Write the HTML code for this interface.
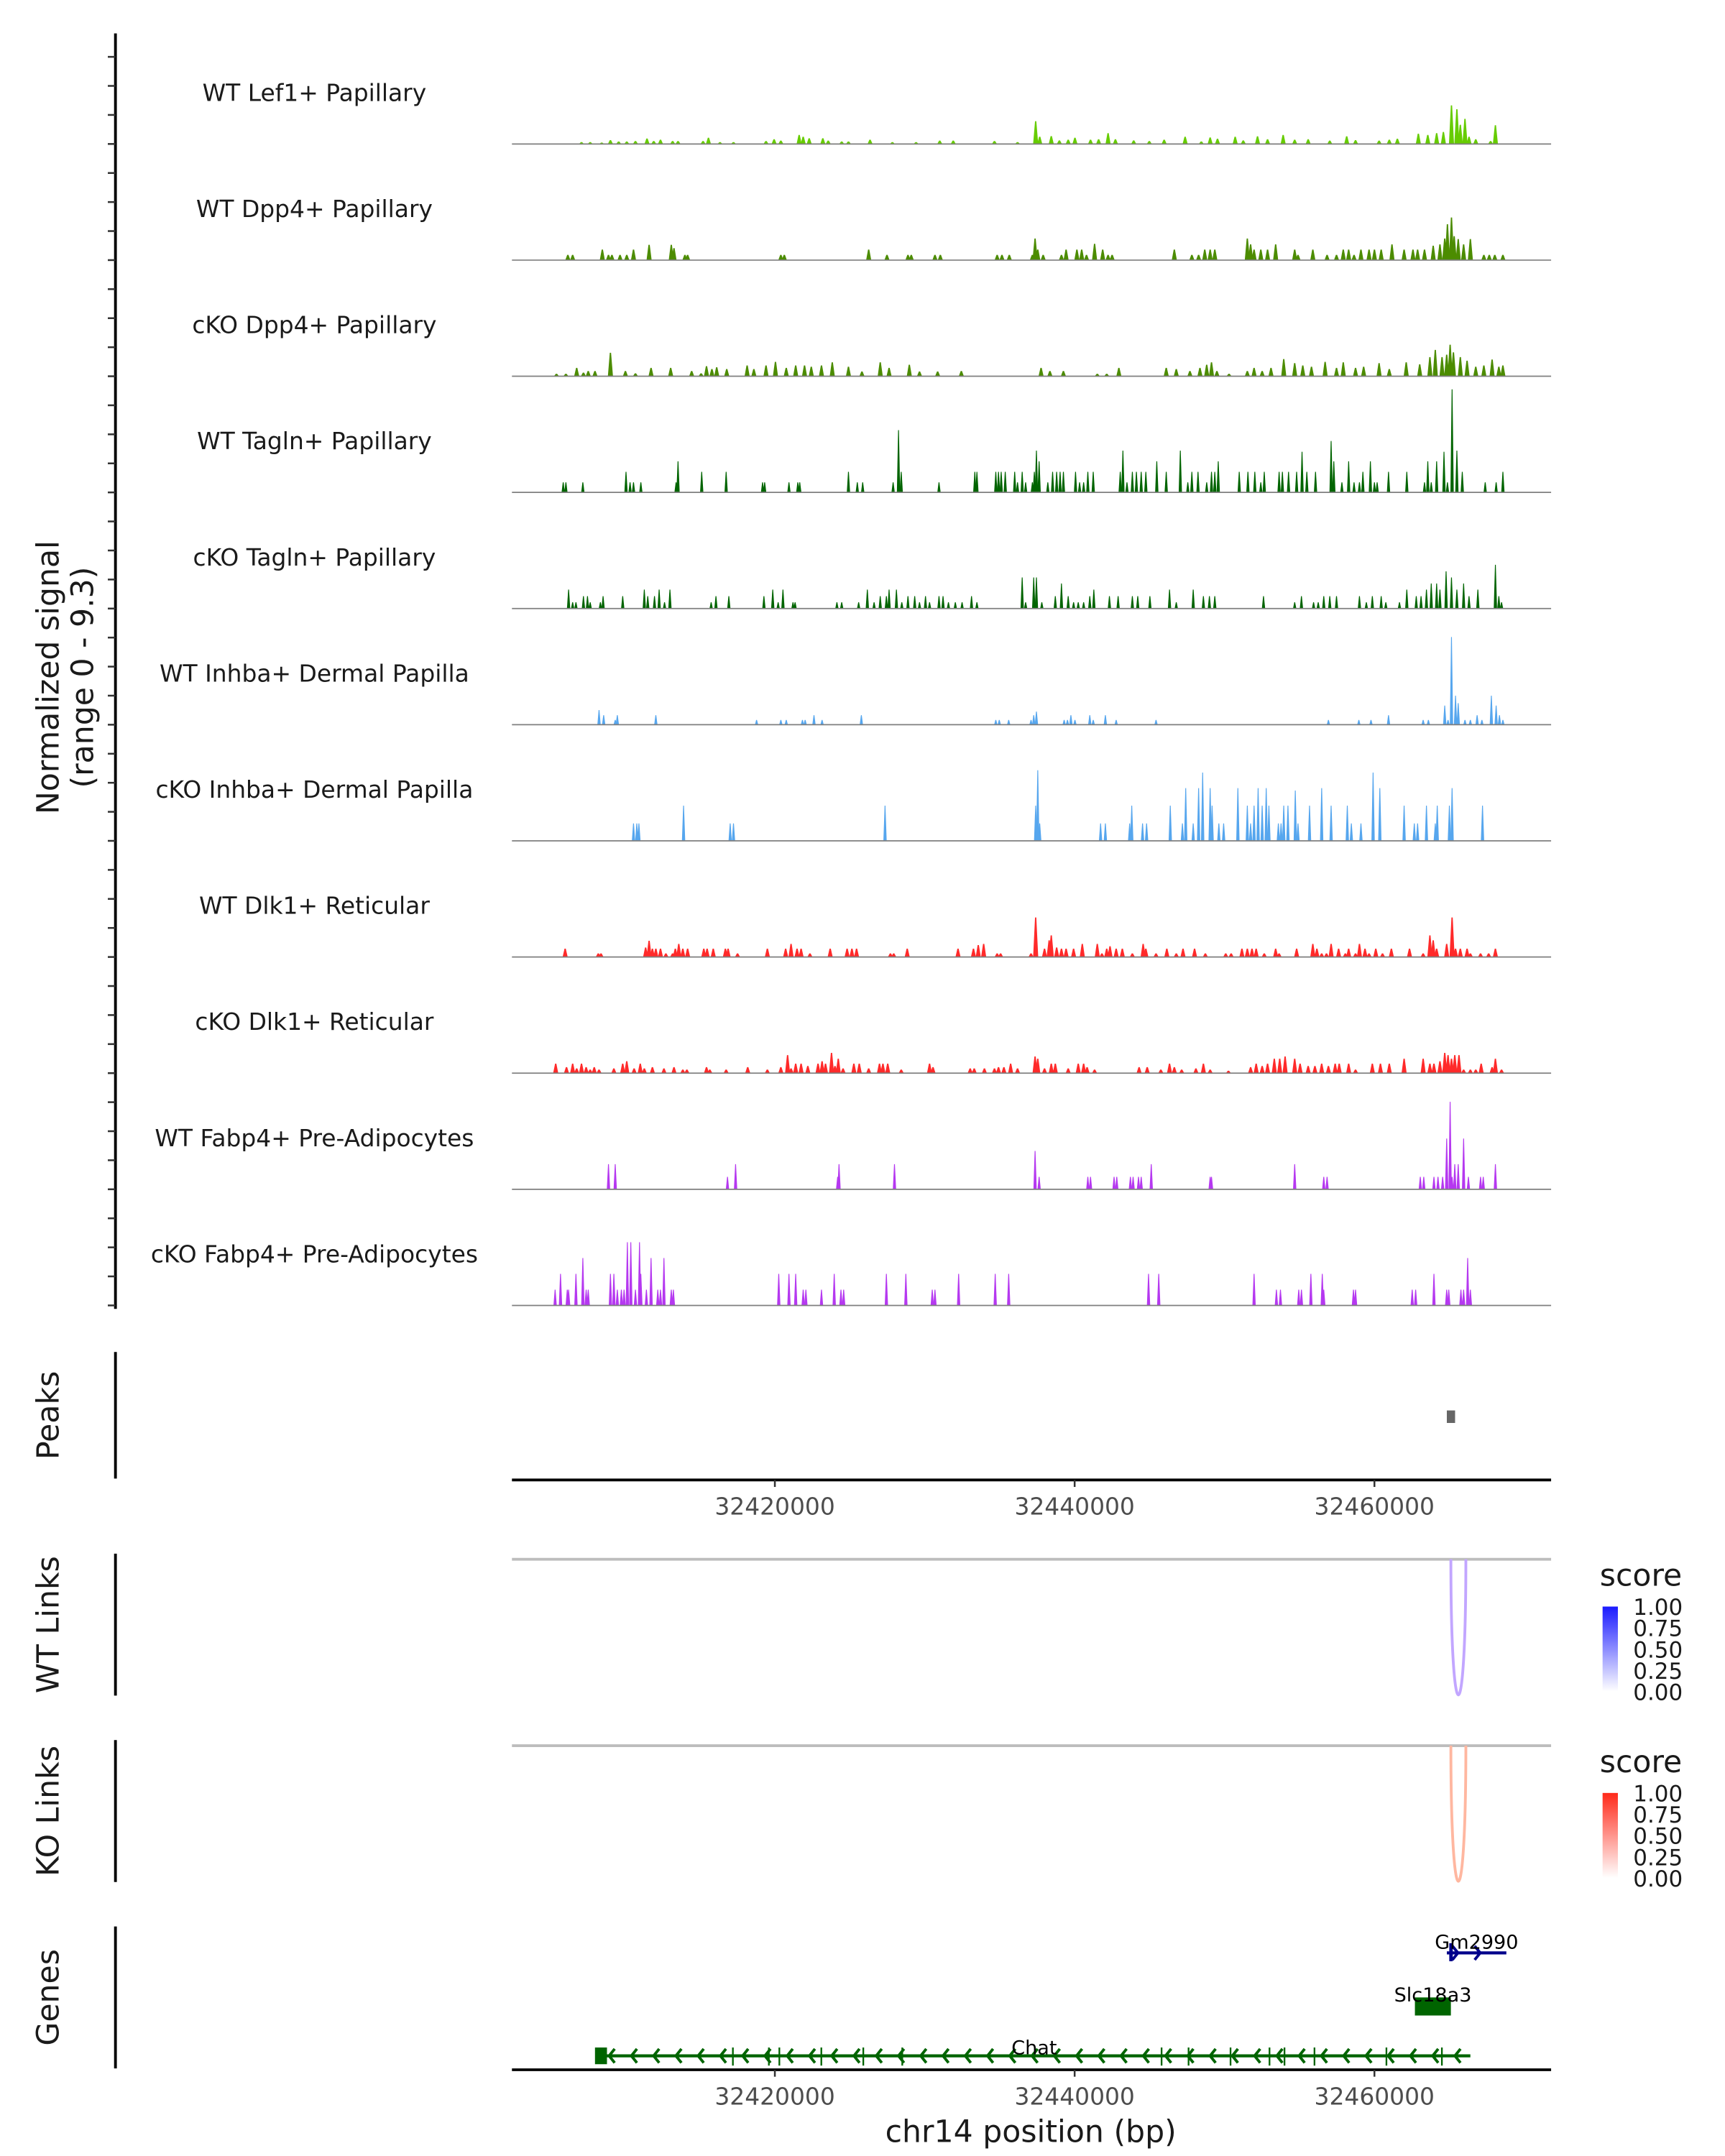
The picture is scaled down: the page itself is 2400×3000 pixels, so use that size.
<!DOCTYPE html>
<html><head><meta charset="utf-8">
<style>
html,body{margin:0;padding:0;background:#fff;}
svg{display:block;font-family:"DejaVu Sans","Liberation Sans",sans-serif;}
</style></head>
<body>
<svg id="chart" xmlns="http://www.w3.org/2000/svg" width="2400" height="3000" viewBox="0 0 1240 1550">
<rect x="0" y="0" width="1240" height="1550" fill="#fff"/>
<g id="tracks"></g>
<g id="lower"></g>
</svg>
<script>
// Positions in kb relative to chr14:32,400,000 ; signal values (range 0-9.3)
const trackNames = ["WT Lef1+ Papillary","WT Dpp4+ Papillary","cKO Dpp4+ Papillary","WT Tagln+ Papillary","cKO Tagln+ Papillary","WT Inhba+ Dermal Papilla","cKO Inhba+ Dermal Papilla","WT Dlk1+ Reticular","cKO Dlk1+ Reticular","WT Fabp4+ Pre-Adipocytes","cKO Fabp4+ Pre-Adipocytes"];
const trackColors = ["#66cc00","#4c8c00","#4c8c00","#006400","#006400","#56a6ee","#56a6ee","#ff2a2a","#ff2a2a","#b538f0","#b538f0"];
const wtLef1 = [[7.10,.16],[7.68,.16],[8.45,.12],[9.03,.33],[9.58,.21],[10.12,.21],[10.70,.25],[11.47,.47],[11.92,.25],[12.37,.37],[13.18,.25],[13.54,.25],[15.21,.25],[15.57,.54],[16.34,.16],[17.24,.16],[19.41,.25],[19.95,.41],[20.40,.29],[21.62,.78],[21.89,.62],[22.29,.49],[23.20,.49],[23.56,.29],[24.46,.21],[24.91,.21],[26.35,.37],[27.84,.16],[29.42,.16],[31.00,.29],[31.90,.29],[34.65,.25],[36.19,.16],[37.40,1.96],[37.67,.62],[38.44,.68],[38.98,.31],[39.57,.37],[40.02,.54],[41.06,.37],[41.60,.41],[42.23,.93],[42.72,.41],[43.94,.31],[44.98,.25],[45.97,.37],[47.37,.62],[48.45,.21],[49.04,.56],[49.53,.45],[50.71,.62],[51.25,.31],[52.20,.66],[52.87,.41],[53.91,.78],[54.68,.37],[55.58,.41],[57.02,.29],[58.15,.66],[58.74,.33],[60.31,.29],[60.99,.37],[61.53,.45],[62.93,.89],[63.56,.78],[64.15,.93],[64.60,1.03],[65.14,3.32],[65.50,2.99],[65.73,1.65],[66.04,2.16],[66.31,.62],[66.76,.41],[67.75,.25],[68.07,1.61]];
const wtDpp4 = [[6.19,.45],[6.51,.45],[8.49,.91],[8.90,.45],[9.13,.45],[9.67,.45],[10.12,.45],[10.57,.91],[11.61,1.32],[13.09,1.32],[13.27,1.03],[14.0,.45],[14.18,.45],[20.40,.45],[20.63,.45],[26.26,.91],[27.48,.45],[28.88,.45],[29.10,.45],[30.68,.45],[31.04,.45],[34.83,.45],[35.15,.45],[35.64,.45],[37.18,.45],[37.36,1.86],[37.54,.91],[37.90,.45],[39.12,.45],[39.43,.91],[40.15,.91],[40.47,.91],[40.79,.45],[41.33,1.4],[41.87,.91],[42.23,.45],[42.5,.45],[46.65,.91],[47.82,.45],[48.27,.45],[48.68,.91],[49.04,.91],[49.35,.91],[51.52,1.86],[51.74,1.36],[51.97,.91],[52.42,.91],[52.87,.91],[53.41,1.36],[54.68,.91],[54.90,.45],[55.89,.91],[56.84,.45],[57.47,.45],[57.92,.91],[58.28,.91],[58.64,.45],[59.10,.91],[59.64,.91],[60.0,.91],[60.45,.91],[61.17,1.36],[61.98,.91],[62.57,.91],[62.88,.91],[63.34,.91],[63.92,1.24],[64.37,1.36],[64.69,1.86],[64.87,3.09],[65.14,3.67],[65.32,2.06],[65.59,1.81],[65.95,1.36],[66.40,1.81],[67.30,.45],[67.66,.45],[68.03,.45],[68.57,.45]];
const koDpp4 = [[5.43,.21],[6.06,.21],[6.78,.72],[7.23,.31],[7.55,.45],[8.0,.45],[9.03,2.02],[10.03,.45],[10.70,.25],[11.74,.72],[13.05,.72],[14.45,.45],[15.08,.25],[15.44,.87],[15.80,.62],[16.12,.78],[16.79,.62],[18.15,.93],[18.60,.62],[19.41,.93],[20.04,1.24],[20.76,.72],[21.39,.93],[21.98,.93],[22.43,.82],[23.11,.93],[23.83,1.2],[24.91,.82],[25.81,.41],[27.03,1.2],[27.62,.72],[28.97,.99],[29.65,.41],[30.86,.41],[32.44,.45],[37.76,.72],[38.35,.45],[39.25,.45],[41.51,.21],[42.14,.21],[42.95,.72],[46.11,.72],[46.78,.62],[47.69,.45],[48.36,.72],[48.81,.99],[49.13,1.2],[49.49,.45],[50.30,.21],[51.52,.45],[51.97,.72],[52.51,.45],[53.10,.72],[53.95,1.48],[54.68,1.13],[55.22,.93],[55.80,.82],[56.71,1.24],[57.47,.72],[57.92,1.2],[58.74,.72],[59.28,.82],[60.31,1.13],[60.99,.62],[62.12,1.2],[63.02,1.03],[63.70,1.65],[64.06,2.27],[64.51,1.65],[64.82,1.86],[65.05,2.72],[65.27,2.06],[65.73,1.65],[66.18,1.34],[66.76,.82],[67.30,.93],[67.85,1.44],[68.30,.82],[68.57,.93]];
const wtTagln = [[5.88,.87],[6.06,.87],[7.19,.87],[10.07,1.77],[10.34,.87],[10.57,.87],[11.06,.87],[13.41,.87],[13.54,2.68],[15.12,1.77],[16.75,1.77],[19.18,.87],[19.32,.87],[20.94,.87],[21.53,.87],[21.66,.87],[24.91,1.77],[25.50,.87],[25.86,.87],[27.89,.87],[28.25,5.36],[28.43,1.77],[30.95,.87],[33.34,1.77],[33.48,1.77],[34.74,1.77],[34.92,1.77],[35.10,1.77],[35.37,1.77],[36.0,1.77],[36.19,.87],[36.50,1.77],[36.73,.87],[37.18,.87],[37.31,1.77],[37.45,3.6],[37.63,2.68],[38.21,.87],[38.53,1.77],[38.80,1.77],[39.03,1.77],[39.25,1.77],[40.06,1.77],[40.33,.87],[40.60,.87],[40.88,1.77],[41.24,1.77],[43.04,1.77],[43.22,3.6],[43.49,.87],[43.85,1.77],[44.12,1.77],[44.44,1.77],[44.75,1.77],[45.48,2.68],[46.11,1.77],[47.05,3.6],[47.55,.87],[47.82,1.77],[48.23,1.77],[48.81,.87],[49.13,1.77],[49.35,1.77],[49.58,2.68],[50.98,1.77],[51.56,1.77],[52.02,1.77],[52.42,.87],[52.65,1.77],[53.64,1.77],[53.86,1.77],[54.27,1.77],[54.81,1.77],[55.17,3.5],[55.49,1.77],[56.07,1.77],[57.11,4.43],[57.29,2.68],[57.83,.87],[58.28,2.68],[58.64,.87],[59.0,.87],[59.23,1.77],[59.73,2.68],[60.0,.87],[60.18,.87],[60.94,1.77],[62.16,1.77],[63.34,.87],[63.56,2.68],[63.79,.87],[64.15,2.68],[64.64,3.5],[64.87,.87],[65.18,8.87],[65.50,3.6],[65.86,1.77],[67.39,.87],[68.12,.87],[68.57,1.77]];
const koTagln = [[6.24,1.63],[6.51,.54],[6.73,.54],[7.23,1.07],[7.50,1.07],[7.68,.54],[8.36,.54],[8.54,1.07],[9.85,1.07],[11.29,1.63],[11.52,1.07],[11.97,1.07],[12.28,1.63],[12.64,.54],[13.0,1.63],[15.75,.54],[16.07,1.07],[16.93,1.07],[19.27,1.07],[19.86,1.63],[20.22,.54],[20.54,1.63],[21.21,.54],[21.35,.54],[24.14,.54],[24.46,.54],[25.59,.54],[26.17,1.63],[26.62,.54],[27.03,1.07],[27.44,1.07],[27.62,1.63],[28.11,1.63],[28.47,.54],[28.88,1.07],[29.33,1.07],[29.65,.54],[30.05,1.07],[30.32,.54],[30.95,1.07],[31.22,1.07],[31.58,.54],[32.04,.54],[32.49,.54],[33.12,1.07],[33.48,.54],[36.50,2.68],[36.73,.54],[37.27,2.68],[37.45,2.68],[37.81,.54],[38.71,1.07],[39.12,2.16],[39.57,1.07],[39.93,.54],[40.24,.54],[40.60,.54],[41.01,1.07],[41.28,1.63],[42.32,1.07],[42.90,1.07],[43.85,1.07],[44.21,1.07],[45.02,1.07],[46.33,1.63],[46.78,.54],[47.91,1.63],[48.59,1.07],[48.99,1.07],[49.35,1.07],[52.60,1.07],[54.68,.54],[55.13,1.07],[55.94,.54],[56.25,.54],[56.62,1.07],[57.02,1.07],[57.47,1.07],[59.0,1.07],[59.46,.54],[59.86,1.07],[60.45,1.07],[60.76,.54],[61.67,.54],[62.16,1.63],[62.79,1.07],[63.11,1.07],[63.47,1.63],[63.79,2.16],[64.15,2.16],[64.37,1.63],[64.78,3.2],[65.14,2.68],[65.50,1.63],[65.95,2.16],[66.31,1.07],[66.90,1.63],[68.07,3.77],[68.30,1.07],[68.48,.54]];
const wtInhba = [[8.27,1.26],[8.58,.82],[9.35,.41],[9.49,.82],[12.06,.82],[18.78,.41],[20.40,.41],[20.76,.41],[21.84,.41],[22.02,.41],[22.61,.82],[23.15,.41],[25.77,.82],[34.74,.41],[34.97,.41],[35.60,.41],[37.09,.41],[37.27,.82],[37.45,1.13],[39.30,.41],[39.52,.41],[39.75,.82],[40.02,.41],[41.01,.82],[41.24,.41],[42.05,.82],[42.77,.41],[45.43,.41],[56.93,.41],[58.96,.41],[59.77,.41],[60.94,.82],[63.25,.41],[63.60,.41],[64.69,1.65],[64.91,.41],[65.14,7.55],[65.41,2.5],[65.59,1.86],[66.04,.41],[66.40,.41],[66.85,.82],[67.17,.41],[67.80,2.5],[68.12,1.65],[68.34,.82],[68.57,.41]];
const koInhba = [[10.57,1.5],[10.79,1.5],[10.93,1.5],[13.91,3.03],[17.02,1.5],[17.24,1.5],[27.35,3.03],[37.40,3.03],[37.54,6.08],[37.67,1.5],[41.73,1.5],[42.05,1.5],[43.67,1.5],[43.81,3.03],[44.53,1.5],[44.80,1.5],[46.38,3.03],[47.19,1.5],[47.41,4.54],[47.91,1.5],[48.27,4.54],[48.54,5.88],[49.04,4.54],[49.17,3.03],[49.62,1.5],[49.94,1.5],[50.89,4.54],[51.52,3.03],[51.74,1.5],[51.97,3.03],[52.24,4.54],[52.51,3.03],[52.78,4.54],[52.96,3.03],[53.59,1.5],[53.77,1.5],[53.95,3.03],[54.23,3.03],[54.72,4.33],[54.90,1.5],[55.67,3.03],[56.48,4.54],[57.11,3.03],[58.19,3.03],[58.46,1.5],[59.10,1.5],[59.91,5.88],[60.36,4.54],[61.98,3.03],[62.66,1.5],[62.88,1.5],[63.47,3.03],[64.06,1.5],[64.19,3.03],[65.0,3.03],[65.18,4.54],[67.21,3.03]];
const wtDlk1 = [[6.01,.72],[8.22,.31],[8.40,.31],[11.38,.82],[11.61,1.4],[11.83,.72],[12.06,.72],[12.37,.72],[12.73,.31],[13.18,.31],[13.36,.72],[13.59,1.13],[13.86,.72],[14.18,.72],[15.26,.72],[15.48,.72],[15.89,.72],[16.70,.72],[16.88,.72],[17.51,.31],[19.50,.72],[20.72,.72],[21.08,1.13],[21.48,.72],[21.75,.72],[22.34,.31],[23.69,.72],[24.82,.72],[25.14,.72],[25.45,.72],[27.71,.31],[27.93,.31],[28.83,.72],[32.22,.72],[33.25,.72],[33.57,1.03],[33.93,1.13],[34.83,.31],[35.06,.31],[37.09,.31],[37.40,3.4],[37.99,.72],[38.30,1.44],[38.44,1.86],[38.80,.82],[39.12,.72],[39.43,.72],[39.93,.72],[40.51,1.13],[41.51,1.13],[41.82,.31],[42.14,.72],[42.36,.93],[42.77,.72],[43.18,.72],[43.85,.31],[44.57,1.13],[44.75,.72],[45.43,.31],[46.15,.72],[46.78,.31],[47.23,.72],[48.0,.72],[48.72,.31],[50.08,.31],[50.44,.31],[51.16,.72],[51.52,.72],[51.83,.72],[52.11,.72],[52.65,.31],[53.41,.72],[53.64,.31],[54.81,.72],[55.89,1.13],[56.16,.72],[56.48,.31],[56.80,.31],[57.11,1.13],[57.61,.72],[58.06,.31],[58.28,.72],[58.74,.31],[59.0,1.13],[59.37,.72],[59.64,.31],[60.09,.72],[60.54,.31],[61.13,.72],[62.34,.72],[63.25,.31],[63.70,1.86],[63.92,1.44],[64.15,.72],[64.82,1.13],[65.18,3.4],[65.41,.72],[65.73,.72],[66.18,.72],[66.40,.31],[67.08,.31],[67.62,.31],[68.07,.72]];
const koDlk1 = [[5.38,.82],[6.10,.52],[6.51,.82],[6.78,.41],[7.10,.82],[7.41,.52],[7.68,.31],[7.95,.52],[8.27,.31],[9.26,.41],[9.85,.82],[10.12,1.03],[10.61,.41],[11.02,.82],[11.29,.41],[11.83,.52],[12.60,.41],[13.27,.52],[13.86,.31],[14.13,.31],[15.44,.52],[15.66,.31],[16.75,.31],[18.19,.52],[19.50,.31],[20.40,.52],[20.85,1.55],[21.08,.41],[21.39,.82],[21.75,.82],[22.20,.62],[22.88,.82],[23.15,1.03],[23.38,.82],[23.78,1.75],[24.01,.62],[24.23,1.24],[24.55,.41],[25.27,.82],[25.63,.82],[26.26,.41],[26.98,.82],[27.21,.82],[27.53,.82],[28.43,.31],[30.32,.82],[30.55,.52],[33.03,.41],[33.30,.41],[33.98,.41],[34.65,.41],[34.92,.52],[35.28,.52],[35.73,.82],[36.19,.41],[37.36,1.44],[37.54,1.24],[37.99,.41],[38.44,.82],[38.71,.82],[39.57,.41],[40.24,.82],[40.60,.82],[40.83,.52],[41.33,.31],[44.30,.52],[44.84,.52],[45.75,.31],[46.33,.82],[46.65,.52],[47.14,.31],[48.09,.41],[48.59,.82],[49.04,.31],[50.26,.21],[51.74,.52],[52.11,.82],[52.51,.62],[52.87,.82],[53.32,1.24],[53.68,1.24],[54.04,1.44],[54.68,1.24],[55.04,.82],[55.58,.62],[56.03,.62],[56.48,.82],[56.93,.62],[57.38,.82],[57.65,.82],[58.28,.82],[58.74,.31],[59.86,.82],[60.40,.82],[60.99,.82],[61.98,1.24],[63.25,1.24],[63.70,.82],[63.97,.82],[64.37,1.03],[64.69,1.75],[64.91,1.55],[65.14,1.24],[65.36,1.55],[65.64,1.55],[65.95,.31],[66.40,.31],[66.76,.31],[67.12,.82],[67.85,.52],[68.07,1.24],[68.48,.31]];
const wtFabp4 = [[8.90,2.16],[9.35,2.16],[16.84,1.07],[17.38,2.16],[24.19,1.07],[24.28,2.16],[27.98,2.16],[37.36,3.3],[37.63,1.07],[40.88,1.07],[41.06,1.07],[42.63,1.07],[42.81,1.07],[43.72,1.07],[43.90,1.07],[44.26,1.07],[44.44,1.07],[45.11,2.16],[49.04,1.07],[49.13,1.07],[54.68,2.16],[56.62,1.07],[56.84,1.07],[63.06,1.07],[63.29,1.07],[63.97,1.07],[64.24,1.07],[64.55,1.07],[64.82,4.37],[65.05,7.53],[65.18,1.07],[65.36,2.16],[65.59,2.16],[65.95,4.37],[66.27,1.07],[67.08,1.07],[67.26,1.07],[68.07,2.16]];
const koFabp4 = [[5.34,1.36],[5.70,2.72],[6.15,1.36],[6.24,1.36],[6.73,2.72],[7.19,4.08],[7.41,1.36],[7.55,1.36],[9.03,2.72],[9.26,2.72],[9.49,1.36],[9.76,1.36],[9.94,1.36],[10.16,5.44],[10.39,5.44],[10.70,1.36],[10.97,5.44],[11.06,2.72],[11.43,1.36],[11.74,4.08],[12.19,1.36],[12.37,1.36],[12.60,4.08],[13.09,1.36],[13.23,1.36],[20.26,2.72],[20.94,2.72],[21.39,2.72],[21.89,1.36],[22.07,1.36],[23.11,1.36],[23.96,2.72],[24.41,1.36],[24.59,1.36],[27.44,2.72],[28.74,2.72],[30.50,1.36],[30.68,1.36],[32.26,2.72],[34.70,2.72],[35.60,2.72],[44.93,2.72],[45.61,2.72],[51.97,2.72],[53.46,1.36],[53.73,1.36],[54.95,1.36],[55.13,1.36],[55.76,2.72],[56.52,2.72],[56.62,1.36],[58.60,1.36],[58.74,1.36],[62.52,1.36],[62.75,1.36],[63.97,2.72],[64.82,1.36],[64.96,1.36],[65.77,1.36],[65.95,1.36],[66.22,4.08],[66.40,1.36]];
const trackData = [wtLef1, wtDpp4, koDpp4, wtTagln, koTagln, wtInhba, koInhba, wtDlk1, koDlk1, wtFabp4, koFabp4];
const xTicks = [20, 40, 60];
const xTickLabels = ["32420000","32440000","32460000"];
const peakRegions = [[64.83, 65.38]];
const wtLinks = [[65.1, 66.1, 0.35]];
const koLinks = [[65.1, 66.1, 0.35]];
const legendLabels = ["1.00","0.75","0.50","0.25","0.00"];
const chatGene = {start: 8.2, end: 66.4, strand: -1, exons: [[8.0, 8.8]], introns: [17.2, 19.6, 20.3, 23.1, 25.9, 28.5, 45.8, 47.6, 50.4, 53.0, 54.0, 56.0, 60.8, 64.5]};
const slcGene = {start: 62.7, end: 65.1, strand: -1};
const gmGene = {start: 64.83, end: 68.8, strand: 1};

const NS = "http://www.w3.org/2000/svg";
const X0 = 368, X1 = 1115;
function xs(kb){ return 557 + (kb - 20) * 10.775; }
const TRACK_H = 83.5, FIRST_BASE = 103.5, YMAX = 10;
function ys(v, base){ return base - v / YMAX * TRACK_H; }
function mk(tag, attrs, parent){
  const el = document.createElementNS(NS, tag);
  for (const k in attrs) el.setAttribute(k, attrs[k]);
  parent.appendChild(el);
  return el;
}
const gT = document.getElementById('tracks');
const gL = document.getElementById('lower');

let ax = mk('line', {x1:83, y1:24, x2:83, y2:941, stroke:'#000', 'stroke-width':2}, gT);


for (let i = 0; i < 11; i++) {
  const base = FIRST_BASE + i * TRACK_H;
  for (let k = 0; k < 4; k++) {
    const ty = base - k * TRACK_H / 4;
    const t = mk('line', {x1:77.5, y1:ty, x2:83, y2:ty, stroke:'#333', 'stroke-width':1.3}, gT);
    
    
  }
}
let yt = mk('text', {x:0, y:0, 'font-size':22, fill:'#1a1a1a', 'text-anchor':'middle', transform:'translate(42,487) rotate(-90)'}, gT);


yt.textContent = 'Normalized signal';
let yt2 = mk('text', {x:0, y:0, 'font-size':22, fill:'#1a1a1a', 'text-anchor':'middle', transform:'translate(67,487) rotate(-90)'}, gT);


yt2.textContent = '(range 0 - 9.3)';

trackData.forEach((peaks, i) => {
  const base = FIRST_BASE + i * TRACK_H;
  const g = mk('g', {}, gT);
  
  
  const lab = mk('text', {x:226, y:base - 31, 'font-size':17, fill:'#1a1a1a', 'text-anchor':'middle'}, g);
  
  
  lab.textContent = trackNames[i];
  const hw = (i < 3 || i === 7 || i === 8) ? 0.17 : 0.11;
  peaks.forEach(p => {
    const cx = xs(p[0]);
    const w = hw * 10.775;
    const poly = mk('polygon', {points: (cx - w) + ',' + base + ' ' + (cx - w * 0.25) + ',' + ys(p[1], base) + ' ' + (cx + w * 0.25) + ',' + ys(p[1], base) + ' ' + (cx + w) + ',' + base, fill: trackColors[i]}, g);
    
    
  });
  const bl = mk('line', {x1:X0, y1:base, x2:X1, y2:base, stroke:'#7f7f7f', 'stroke-width':0.9}, g);
  
  
});

function panelAxis(y1, y2, label, name){
  const l = mk('line', {x1:83, y1:y1, x2:83, y2:y2, stroke:'#000', 'stroke-width':2}, gL);
  
  
  const t = mk('text', {x:0, y:0, 'font-size':22, fill:'#1a1a1a', 'text-anchor':'middle', transform:'translate(42,' + ((y1 + y2) / 2) + ') rotate(-90)'}, gL);
  
  
  t.textContent = label;
}
function xAxis(y, name){
  const l = mk('line', {x1:X0, y1:y, x2:X1, y2:y, stroke:'#000', 'stroke-width':2}, gL);
  
  
  xTicks.forEach((kb, j) => {
    const tk = mk('line', {x1:xs(kb), y1:y, x2:xs(kb), y2:y + 5, stroke:'#333', 'stroke-width':1.3}, gL);
    
    
    const tl = mk('text', {x:xs(kb), y:y + 25, 'font-size':17, fill:'#4d4d4d', 'text-anchor':'middle'}, gL);
    
    
    tl.textContent = xTickLabels[j];
  });
}

panelAxis(972, 1063, 'Peaks', 'peaks');
peakRegions.forEach(r => {
  const rc = mk('rect', {x:xs(r[0]), y:1014, width:xs(r[1]) - xs(r[0]), height:9, fill:'#666'}, gL);
  
  
});
xAxis(1064, 'peaks-x-axis');

function linksPanel(top, bottom, links, color, topColor, label, name){
  panelAxis(top - 4, bottom, label, name);
  const hl = mk('line', {x1:X0, y1:top, x2:X1, y2:top, stroke:'#bdbdbd', 'stroke-width':2}, gL);
  
  
  links.forEach(lk => {
    const a = xs(lk[0]), b = xs(lk[1]);
    const depth = bottom - 3;
    const p = mk('path', {d:'M' + a + ',' + top + ' C' + a + ',' + (depth + 35) + ' ' + b + ',' + (depth + 35) + ' ' + b + ',' + top, fill:'none', stroke:color, 'stroke-width':2}, gL);
    
    
  });
  const ly = top + 19;
  const st = mk('text', {x:1150, y:ly, 'font-size':22, fill:'#1a1a1a'}, gL);
  
  
  st.textContent = 'score';
  const gid = 'grad-' + name;
  const defs = mk('defs', {}, gL);
  const lg = mk('linearGradient', {id:gid, x1:0, y1:0, x2:0, y2:1}, defs);
  mk('stop', {offset:0, 'stop-color':topColor}, lg);
  mk('stop', {offset:1, 'stop-color':'#ffffff'}, lg);
  const cb = mk('rect', {x:1152, y:ly + 15, width:11, height:61, fill:'url(#' + gid + ')'}, gL);
  
  
  legendLabels.forEach((s, j) => {
    const t = mk('text', {x:1174, y:ly + 21 + j * 15.3, 'font-size':16, fill:'#1a1a1a'}, gL);
    
    
    t.textContent = s;
  });
}
linksPanel(1121, 1219, wtLinks, '#c2a6ff', '#1a1aff', 'WT Links', 'wt-links');
linksPanel(1255, 1353, koLinks, '#ffb7a0', '#ff2a1a', 'KO Links', 'ko-links');

panelAxis(1385, 1487, 'Genes', 'genes');
function geneLine(gene, y, color, label, labelY, name){
  const g = mk('g', {}, gL);
  
  
  const a = xs(gene.start), b = xs(gene.end);
  mk('line', {x1:a, y1:y, x2:b, y2:y, stroke:color, 'stroke-width':2.2}, g);
  for (let x = a + 8; x < b - 3; x += 16) {
    const d = gene.strand < 0 ? 'M' + (x + 4) + ',' + (y - 5) + ' L' + x + ',' + y + ' L' + (x + 4) + ',' + (y + 5) : 'M' + (x - 4) + ',' + (y - 5) + ' L' + x + ',' + y + ' L' + (x - 4) + ',' + (y + 5);
    mk('path', {d:d, fill:'none', stroke:color, 'stroke-width':2}, g);
  }
  const t = mk('text', {x:(a + b) / 2, y:labelY, 'font-size':14, fill:'#000', 'text-anchor':'middle'}, gL);
  
  
  t.textContent = label;
  return g;
}
const chatG = geneLine(chatGene, 1478, '#006400', 'Chat', 1477, 'gene-chat');
chatGene.exons.forEach(e => mk('rect', {x:xs(e[0]), y:1472, width:xs(e[1]) - xs(e[0]), height:12, fill:'#006400'}, chatG));
chatGene.introns.forEach(p => mk('line', {x1:xs(p), y1:1472, x2:xs(p), y2:1485, stroke:'#006400', 'stroke-width':1.2}, chatG));
const slc = mk('rect', {x:xs(slcGene.start), y:1436, width:xs(slcGene.end) - xs(slcGene.start), height:13, fill:'#006400'}, gL);


const slcT = mk('text', {x:1030, y:1439, 'font-size':14, fill:'#000', 'text-anchor':'middle'}, gL);


slcT.textContent = 'Slc18a3';
const gmG = geneLine(gmGene, 1404, '#00008b', 'Gm2990', 1401, 'gene-gm2990');
mk('line', {x1:xs(gmGene.start) + 3, y1:1397, x2:xs(gmGene.start) + 3, y2:1410, stroke:'#00008b', 'stroke-width':2.5}, gmG);
xAxis(1488, 'genes-x-axis');
const xt = mk('text', {x:741, y:1540, 'font-size':22, fill:'#1a1a1a', 'text-anchor':'middle'}, gL);


xt.textContent = 'chr14 position (bp)';
</script>
</body></html>
